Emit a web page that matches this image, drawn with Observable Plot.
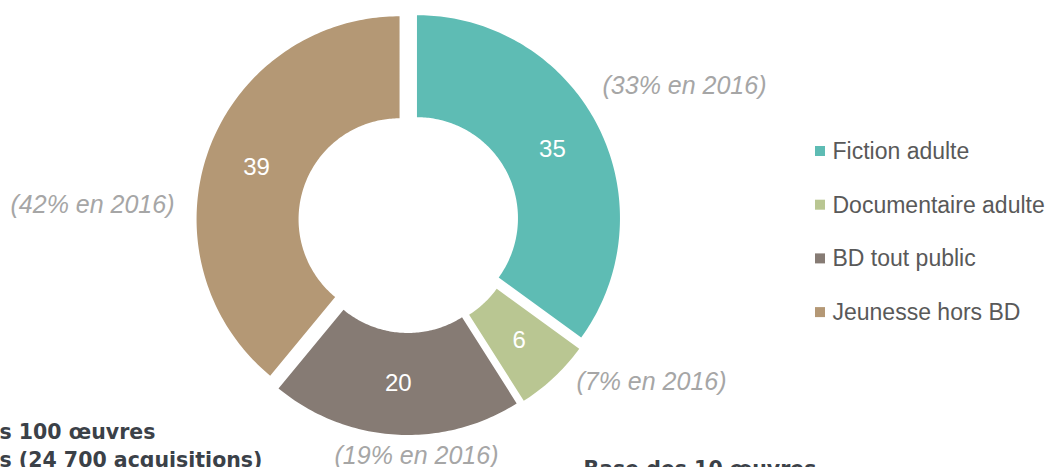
<!DOCTYPE html>
<html><head><meta charset="utf-8">
<script src="https://cdn.jsdelivr.net/npm/d3@7"></script>
<script src="https://cdn.jsdelivr.net/npm/@observablehq/plot@0.6"></script>
<style>
html,body{margin:0;padding:0;background:#fff;overflow:hidden}
#chart svg{display:block}
</style>
</head><body><div id="chart"></div>
<script>
// ---- data ----
const categories = ["Fiction adulte", "Documentaire adulte", "BD tout public", "Jeunesse hors BD"];
const values = [35, 6, 20, 39];
const share2016 = [33, 7, 19, 42];
const colors = ["#5EBCB4", "#B9C692", "#867B74", "#B49875"];
const noteLines = ["s 100 œuvres", "s (24 700 acquisitions)"];
const noteRight = "Base des 10 œuvres";

// ---- layout ----
const W = 1045, H = 467;
const cx = 408, cy = 222;          // ring centre (px)
const R = 203, r0 = 101, explode = 9.5;
// placement of the "(x% en 2016)" annotations, relative to the ring centre
const annotPos = [[276, -137], [243, 159], [8, 233], [-316, -18]];

const total = d3.sum(values);
let acc = 0;
const slices = values.map((v, i) => {
  const a0 = acc / total * 2 * Math.PI;
  acc += v;
  const a1 = acc / total * 2 * Math.PI;
  const mid = (a0 + a1) / 2;
  return {cat: categories[i], value: v, a0, a1, mid,
          ox: explode * Math.sin(mid), oy: -explode * Math.cos(mid)};
});

// polygon points for each ring segment
const ringPts = [];
for (const s of slices) {
  const n = Math.max(8, Math.ceil((s.a1 - s.a0) * 60));
  for (let k = 0; k <= n; k++) {
    const a = s.a0 + (s.a1 - s.a0) * k / n;
    ringPts.push({cat: s.cat, x: s.ox + R * Math.sin(a), y: s.oy - R * Math.cos(a)});
  }
  for (let k = n; k >= 0; k--) {
    const a = s.a0 + (s.a1 - s.a0) * k / n;
    ringPts.push({cat: s.cat, x: s.ox + r0 * Math.sin(a), y: s.oy - r0 * Math.cos(a)});
  }
}

const labelR = (R + r0) / 2;
const valueLabels = slices.map(s => ({
  text: String(s.value),
  x: s.ox + labelR * Math.sin(s.mid),
  y: s.oy - labelR * Math.cos(s.mid)
}));
const annots = share2016.map((p, i) => ({text: `(${p}% en 2016)`, x: annotPos[i][0], y: annotPos[i][1]}));

const legX = 412, legTop = -71, legStep = 53.7;
const legend = categories.map((c, i) => ({cat: c, y: legTop + i * legStep}));

const font = "'Liberation Sans', Arial, sans-serif";
const boldFont = "'DejaVu Sans', Verdana, sans-serif";

const chart = Plot.plot({
  width: W, height: H,
  margin: 0,
  style: {background: "#fff", fontFamily: font},
  x: {axis: null, domain: [-cx, W - cx], range: [0, W]},
  y: {axis: null, domain: [-cy, H - cy], range: [0, H]},
  color: {domain: categories, range: colors},
  marks: [
    Plot.line(ringPts, {x: "x", y: "y", z: "cat", fill: "cat", stroke: "none", curve: "linear"}),
    Plot.text(valueLabels, {x: "x", y: "y", text: "text", fill: "#fff", fontSize: 24, fontFamily: font}),
    Plot.text(annots, {x: "x", y: "y", text: "text", fill: "#A6A6A6", fontSize: 25, fontStyle: "italic", fontFamily: font}),
    Plot.rect(legend, {x1: d => legX - 5, x2: d => legX + 5, y1: d => d.y - 5, y2: d => d.y + 5, fill: "cat"}),
    Plot.text(legend, {x: legX + 12, y: "y", text: "cat", textAnchor: "start", fill: "#595959", fontSize: 23, fontFamily: font}),
    Plot.text(noteLines, {x: -cx - 1, y: (d, i) => 432 - cy + i * 28, text: d => d, textAnchor: "start", fill: "#3B4148", fontSize: 20.5, fontWeight: "bold", fontFamily: boldFont}),
    Plot.text([noteRight], {x: 583 - cx, y: 469 - cy, text: d => d, textAnchor: "start", fill: "#3B4148", fontSize: 20.5, fontWeight: "bold", fontFamily: boldFont})
  ]
});
document.getElementById("chart").appendChild(chart);
</script>
</body></html>
